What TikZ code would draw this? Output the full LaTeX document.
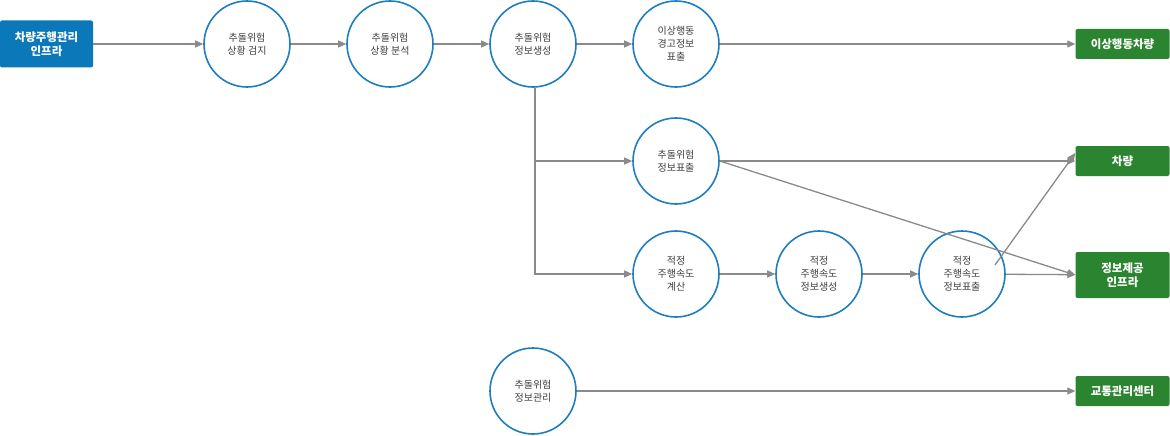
\documentclass[tikz,border=0pt]{standalone}
\usepackage{fontspec}
\setmainfont{Noto Sans CJK KR}
\usetikzlibrary{arrows.meta}
\definecolor{srcblue}{HTML}{0B78BA}
\definecolor{dstgreen}{HTML}{2B842F}
\definecolor{ringblue}{HTML}{1E7DBE}
\definecolor{linegray}{HTML}{8A8A8A}
\tikzset{
  stage/.style={circle, draw=ringblue, line width=1.6pt, fill=white, minimum size=86pt,
    inner sep=0pt, align=center, font=\fontsize{10}{13}\selectfont, text=black!75},
  srcbox/.style={rectangle, rounded corners=2pt, fill=srcblue, text=white, align=center,
    minimum width=93pt, minimum height=47pt, font=\bfseries\fontsize{11.5}{14}\selectfont},
  dstbox/.style={rectangle, rounded corners=2pt, fill=dstgreen, text=white, align=center,
    minimum width=94pt, font=\bfseries\fontsize{11.5}{14}\selectfont},
  flow/.style={draw=linegray, line width=1.3pt, -{Triangle[length=8pt,width=7pt]}}
}
\begin{document}
\begin{tikzpicture}[x=1pt, y=-1pt]
    \useasboundingbox (0,0) rectangle (1170,436);
    \node[srcbox] (infra) at (46.5,44) {차량주행관리\\인프라};
    \node[stage] (detect)  at (247,44)  {추돌위험\\상황 검지};
    \node[stage] (analyze) at (390,44)  {추돌위험\\상황 분석};
    \node[stage] (gen)     at (533,44)  {추돌위험\\정보생성};
    \node[stage] (warn)    at (676,44)  {이상행동\\경고정보\\표출};
    \node[stage] (show)    at (676,161) {추돌위험\\정보표출};
    \node[stage] (calc)    at (676,274) {적정\\주행속도\\계산};
    \node[stage] (sgen)    at (819,274) {적정\\주행속도\\정보생성};
    \node[stage] (sshow)   at (962,274) {적정\\주행속도\\정보표출};
    \node[stage] (manage)  at (533,391) {추돌위험\\정보관리};
    \node[dstbox, minimum height=30pt] (odd)     at (1122.5,44)  {이상행동차량};
    \node[dstbox, minimum height=30pt] (car)     at (1122.5,161) {차량};
    \node[dstbox, minimum height=46pt] (provide) at (1122.5,275) {정보제공\\인프라};
    \node[dstbox, minimum height=30pt] (center)  at (1122.5,391) {교통관리센터};
    \coordinate (split) at (535,161);
    \draw[flow] (infra) -- (detect);
    \draw[flow] (detect) -- (analyze);
    \draw[flow] (analyze) -- (gen);
    \draw[flow] (gen) -- (warn);
    \draw[flow] (warn) -- (odd);
    \draw[flow] (gen.south) ++(2,0) |- (calc);
    \draw[flow] (split) -- (show);
    \draw[flow] (show) -- (car);
    \draw[flow] (show.east) -- (provide.west);
    \draw[flow] (calc) -- (sgen);
    \draw[flow] (sgen) -- (sshow);
    \draw[flow] (sshow) -- (provide);
    \draw[flow] (sshow.north east) ++(2,22) -- ([yshift=8pt]car.west);
    \draw[flow] (manage) -- (center);
\end{tikzpicture}
\end{document}
